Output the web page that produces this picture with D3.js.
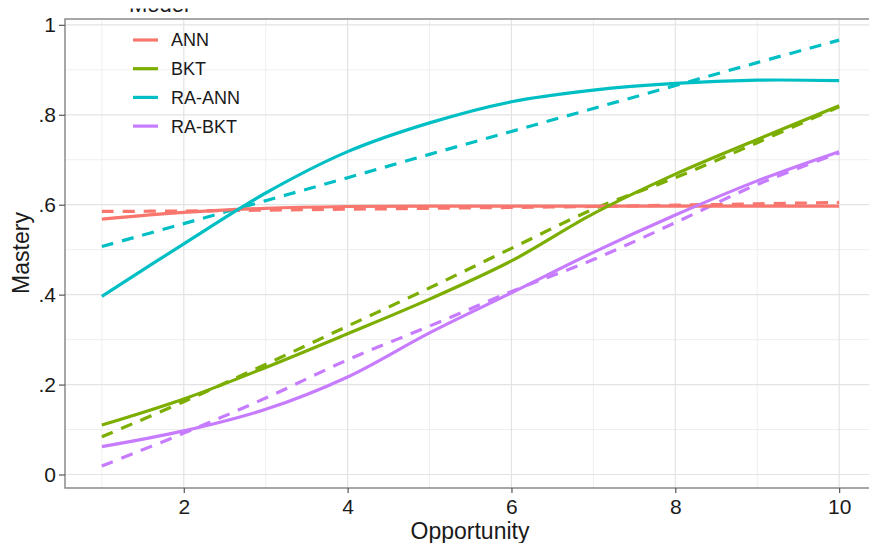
<!DOCTYPE html>
<html>
<head>
<meta charset="utf-8">
<script src="https://cdn.jsdelivr.net/npm/d3@7"></script>
<style>
  body { margin: 0; background: #fff; }
  text { font-family: "Liberation Sans", Arial, sans-serif; fill: #1a1a1a; }
</style>
</head>
<body>
<div id="chart"></div>
<script>
// Opportunities on the x axis
const opportunity = [1, 2, 3, 4, 5, 6, 7, 8, 9, 10];

// Model names (legend order)
const models = ["ANN", "BKT", "RA-ANN", "RA-BKT"];

// Solid lines, one per model
const annSolid   = [0.568, 0.583, 0.592, 0.596, 0.597, 0.597, 0.597, 0.597, 0.597, 0.597];
const bktSolid   = [0.110, 0.168, 0.238, 0.313, 0.390, 0.475, 0.580, 0.668, 0.745, 0.820];
const raAnnSolid = [0.396, 0.513, 0.626, 0.718, 0.782, 0.829, 0.855, 0.870, 0.877, 0.876];
const raBktSolid = [0.062, 0.097, 0.145, 0.217, 0.315, 0.404, 0.494, 0.577, 0.653, 0.718];

// Dashed lines, one per model
const annDashed   = [0.585, 0.586, 0.588, 0.590, 0.592, 0.594, 0.596, 0.599, 0.602, 0.605];
const bktDashed   = [0.084, 0.162, 0.245, 0.330, 0.415, 0.503, 0.590, 0.660, 0.738, 0.818];
const raAnnDashed = [0.507, 0.558, 0.609, 0.660, 0.712, 0.763, 0.814, 0.865, 0.916, 0.966];
const raBktDashed = [0.019, 0.092, 0.170, 0.255, 0.330, 0.407, 0.478, 0.560, 0.645, 0.715];

const xTicks = [2, 4, 6, 8, 10];
const yTicks = [0, 0.2, 0.4, 0.6, 0.8, 1];

const width = 869,
    height = 543;

const colors = ["#F8766D", "#7CAE00", "#00BFC4", "#C77CFF"];
const color = d3.scaleOrdinal().domain(models).range(colors);

const svg = d3.select("#chart")
    .append("svg")
    .attr("width", width)
    .attr("height", height);

// Scales (panel runs a bit past the right edge, like the source)
const x = d3.scaleLinear().domain([0.55, 10.45]).range([65, 876]);
const y = d3.scaleLinear().domain([-0.03, 1.013]).range([488, 19]);

// Grid lines
const grid = svg.append("g");
grid.selectAll(".minorx")
    .data([1, 3, 5, 7, 9])
    .enter().append("line")
    .attr("x1", d => x(d)).attr("x2", d => x(d))
    .attr("y1", y.range()[0]).attr("y2", y.range()[1])
    .attr("stroke", "#efefef").attr("stroke-width", 1);
grid.selectAll(".minory")
    .data([0.1, 0.3, 0.5, 0.7, 0.9])
    .enter().append("line")
    .attr("y1", d => y(d)).attr("y2", d => y(d))
    .attr("x1", x.range()[0]).attr("x2", x.range()[1])
    .attr("stroke", "#efefef").attr("stroke-width", 1);
grid.selectAll(".majorx")
    .data(xTicks)
    .enter().append("line")
    .attr("x1", d => x(d)).attr("x2", d => x(d))
    .attr("y1", y.range()[0]).attr("y2", y.range()[1])
    .attr("stroke", "#e3e3e3").attr("stroke-width", 1.2);
grid.selectAll(".majory")
    .data(yTicks)
    .enter().append("line")
    .attr("y1", d => y(d)).attr("y2", d => y(d))
    .attr("x1", x.range()[0]).attr("x2", x.range()[1])
    .attr("stroke", "#e3e3e3").attr("stroke-width", 1.2);

// Lines
const line = d3.line()
    .x((d, i) => x(opportunity[i]))
    .y(d => y(d))
    .curve(d3.curveCatmullRom);

const series = [
    { model: "ANN", dashed: true, values: annDashed },
    { model: "BKT", dashed: true, values: bktDashed },
    { model: "RA-ANN", dashed: true, values: raAnnDashed },
    { model: "RA-BKT", dashed: true, values: raBktDashed },
    { model: "ANN", dashed: false, values: annSolid },
    { model: "BKT", dashed: false, values: bktSolid },
    { model: "RA-ANN", dashed: false, values: raAnnSolid },
    { model: "RA-BKT", dashed: false, values: raBktSolid }
];

svg.selectAll(".series")
    .data(series)
    .enter()
    .append("path")
    .attr("d", d => line(d.values))
    .attr("fill", "none")
    .attr("stroke", d => color(d.model))
    .attr("stroke-width", 3.2)
    .attr("stroke-dasharray", d => d.dashed ? "12,9" : null);

// Panel border
svg.append("rect")
    .attr("x", x.range()[0]).attr("y", y.range()[1])
    .attr("width", x.range()[1] - x.range()[0])
    .attr("height", y.range()[0] - y.range()[1])
    .attr("fill", "none")
    .attr("stroke", "#8a8a8a")
    .attr("stroke-width", 1.5);

// Axes
const fmt = d => (d === 0 ? "0" : d === 1 ? "1" : d3.format(".1f")(d).replace(/^0/, ""));

const xAxis = svg.append("g")
    .attr("transform", "translate(0," + y.range()[0] + ")")
    .call(d3.axisBottom(x).tickValues(xTicks).tickSize(5).tickPadding(6));
const yAxis = svg.append("g")
    .attr("transform", "translate(" + x.range()[0] + ",0)")
    .call(d3.axisLeft(y).tickValues(yTicks).tickFormat(fmt).tickSize(6).tickPadding(3));

[xAxis, yAxis].forEach(a => {
    a.select(".domain").remove();
    a.selectAll(".tick line").attr("stroke", "#555").attr("stroke-width", 1.2);
    a.selectAll(".tick text")
        .style("font-size", "21px")
        .style("font-family", "Liberation Sans, Arial, sans-serif")
        .attr("fill", "#1a1a1a");
});

// Axis titles
svg.append("text")
    .attr("x", 470).attr("y", 539)
    .attr("text-anchor", "middle")
    .style("font-size", "23px")
    .text("Opportunity");

svg.append("text")
    .attr("transform", "translate(29," + 253 + ") rotate(-90)")
    .attr("text-anchor", "middle")
    .style("font-size", "23px")
    .text("Mastery");

// Legend title: only its lower edge shows in the source, the rest is cut off
svg.append("text")
    .attr("x", 129).attr("y", 12)
    .style("font-size", "22px")
    .text("Model");
svg.append("rect")
    .attr("x", 100).attr("y", 0)
    .attr("width", 140).attr("height", 8.5)
    .attr("fill", "#fff");

const legend = svg.selectAll(".legend")
    .data(models)
    .enter()
    .append("g")
    .attr("transform", (d, i) => "translate(133," + (40 + i * 28.7) + ")");
legend.append("line")
    .attr("x1", 0).attr("x2", 25)
    .attr("stroke", d => color(d))
    .attr("stroke-width", 3.2);
legend.append("text")
    .attr("x", 38)
    .attr("dy", "0.36em")
    .style("font-size", "18px")
    .text(d => d);
</script>
</body>
</html>
